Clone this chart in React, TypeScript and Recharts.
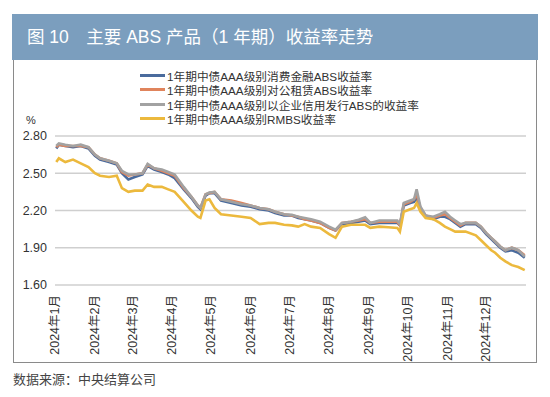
import React from 'react';
import { LineChart, Line, XAxis, YAxis, CartesianGrid } from 'recharts';

// day of year (0 = 1 Jan 2024) for each sample
const days = [
  1, 3, 8, 14, 20, 26, 31, 35, 42, 48, 52, 57, 62, 68, 72, 77, 83, 88, 93, 100,
  106, 111, 113, 117, 120, 124, 129, 137, 145, 152, 159, 166, 171, 178, 184, 189, 194, 199, 206, 213,
  218, 223, 230, 236, 241, 245, 252, 259, 266, 268, 271, 276, 279, 281, 284, 288, 294, 299, 303, 307,
  311, 315, 319, 327, 331, 335, 339, 342, 346, 350, 355, 360, 365,
];

const consumerFinance = [
  2.70, 2.73, 2.72, 2.71, 2.72, 2.70, 2.64, 2.61, 2.59, 2.57, 2.50, 2.45, 2.47, 2.49, 2.56, 2.53, 2.51, 2.49, 2.46, 2.37,
  2.30, 2.23, 2.21, 2.32, 2.34, 2.34, 2.28, 2.26, 2.24, 2.23, 2.21, 2.20, 2.18, 2.16, 2.16, 2.14, 2.13, 2.12, 2.10, 2.06,
  2.04, 2.09, 2.10, 2.11, 2.12, 2.09, 2.10, 2.10, 2.10, 2.08, 2.24, 2.26, 2.27, 2.30, 2.21, 2.15, 2.13, 2.15, 2.15, 2.13,
  2.10, 2.07, 2.09, 2.09, 2.06, 2.01, 1.97, 1.94, 1.90, 1.87, 1.88, 1.86, 1.82,
];

const publicRental = [
  2.71, 2.73, 2.72, 2.72, 2.72, 2.71, 2.65, 2.62, 2.60, 2.58, 2.51, 2.48, 2.49, 2.50, 2.57, 2.54, 2.52, 2.50, 2.48, 2.38,
  2.31, 2.24, 2.22, 2.33, 2.34, 2.35, 2.29, 2.28, 2.26, 2.24, 2.22, 2.21, 2.19, 2.17, 2.16, 2.15, 2.13, 2.12, 2.10, 2.06,
  2.04, 2.10, 2.11, 2.12, 2.13, 2.10, 2.11, 2.11, 2.11, 2.08, 2.25, 2.27, 2.29, 2.33, 2.22, 2.16, 2.14, 2.16, 2.17, 2.14,
  2.11, 2.08, 2.10, 2.10, 2.07, 2.02, 1.98, 1.95, 1.91, 1.88, 1.90, 1.88, 1.84,
];

const enterpriseCredit = [
  2.72, 2.74, 2.73, 2.72, 2.73, 2.71, 2.65, 2.62, 2.60, 2.58, 2.52, 2.49, 2.49, 2.50, 2.575, 2.54, 2.53, 2.51, 2.49, 2.39,
  2.31, 2.24, 2.22, 2.33, 2.345, 2.35, 2.29, 2.27, 2.25, 2.24, 2.22, 2.21, 2.19, 2.17, 2.165, 2.15, 2.14, 2.13, 2.11, 2.07,
  2.045, 2.10, 2.11, 2.125, 2.145, 2.10, 2.12, 2.12, 2.12, 2.09, 2.26, 2.28, 2.29, 2.37, 2.23, 2.16, 2.15, 2.17, 2.19, 2.15,
  2.12, 2.09, 2.10, 2.10, 2.07, 2.02, 1.98, 1.95, 1.91, 1.88, 1.90, 1.88, 1.83,
];

const rmbs = [
  2.59, 2.62, 2.59, 2.61, 2.58, 2.55, 2.50, 2.48, 2.47, 2.48, 2.38, 2.35, 2.36, 2.36, 2.41, 2.39, 2.39, 2.37, 2.35, 2.27,
  2.20, 2.15, 2.14, 2.28, 2.29, 2.22, 2.17, 2.16, 2.15, 2.14, 2.09, 2.10, 2.10, 2.085, 2.08, 2.07, 2.09, 2.07, 2.06, 2.01,
  1.98, 2.07, 2.085, 2.085, 2.085, 2.06, 2.07, 2.065, 2.06, 2.03, 2.19, 2.21, 2.22, 2.26, 2.19, 2.14, 2.13, 2.10, 2.07, 2.05,
  2.03, 2.03, 2.03, 2.00, 1.96, 1.92, 1.88, 1.86, 1.82, 1.79, 1.76, 1.745, 1.72,
];

const monthStarts = [0, 31, 60, 91, 121, 152, 182, 213, 244, 274, 305, 335];
const monthLabels = ['1月', '2月', '3月', '4月', '5月', '6月', '7月', '8月', '9月', '10月', '11月', '12月'];
const yTicks = [1.6, 1.9, 2.2, 2.5, 2.8];

const series = [
  { key: 'consumerFinance', name: '1年期中债AAA级别消费金融ABS收益率', color: '#4a6b9d' },
  { key: 'publicRental', name: '1年期中债AAA级别对公租赁ABS收益率', color: '#e0845c' },
  { key: 'enterpriseCredit', name: '1年期中债AAA级别以企业信用发行ABS的收益率', color: '#a2a2a2' },
  { key: 'rmbs', name: '1年期中债AAA级别RMBS收益率', color: '#ecb93d' },
];

const data = days.map((d, i) => ({
  d,
  consumerFinance: consumerFinance[i],
  publicRental: publicRental[i],
  enterpriseCredit: enterpriseCredit[i],
  rmbs: rmbs[i],
}));

const font = "'Liberation Sans', 'Noto Sans CJK SC', sans-serif";

const MonthTick = (props: any) => {
  const { x, y, payload } = props;
  const idx = monthStarts.indexOf(payload.value);
  return (
    <text
      x={x}
      y={y + 2}
      transform={`rotate(-90 ${x} ${y + 2})`}
      textAnchor="end"
      dy="0.35em"
      fontSize={12.5}
      fill="#333"
      fontFamily={font}
    >
      {`2024年${monthLabels[idx]}`}
    </text>
  );
};

export default function App() {
  return (
    <div style={{ position: 'absolute', left: 0, top: 0, width: 550, height: 397, background: '#fff', fontFamily: font }}>
      <div
        style={{
          position: 'absolute', left: 12, top: 14, width: 526, height: 46, background: '#7b9ebe',
          color: '#fff', fontSize: 17.5, lineHeight: '46px', paddingLeft: 15, boxSizing: 'border-box',
          fontFamily: font, whiteSpace: 'pre',
        }}
      >
        图 10　主要 ABS 产品（1 年期）收益率走势
      </div>
      <div
        style={{
          position: 'absolute', left: 13, top: 60, width: 524, height: 303,
          border: '1px solid #8a8a8a', borderTop: 'none', boxSizing: 'border-box',
        }}
      />
      <div style={{ position: 'absolute', left: 140, top: 68 }}>
        {series.map((s) => (
          <div key={s.key} style={{ display: 'flex', alignItems: 'center', height: 14.5 }}>
            <div style={{ width: 25, height: 3, background: s.color, marginRight: 2 }} />
            <span style={{ fontSize: 11.7, color: '#333', whiteSpace: 'nowrap' }}>{s.name}</span>
          </div>
        ))}
      </div>
      <div style={{ position: 'absolute', left: 26, top: 114, fontSize: 11, color: '#333' }}>%</div>
      <div style={{ position: 'absolute', left: 13, top: 369, fontSize: 13, color: '#444', fontFamily: "'Noto Sans CJK SC', sans-serif" }}>
        数据来源：中央结算公司
      </div>
      <div style={{ position: 'absolute', left: 0, top: 0 }}>
        <LineChart width={550} height={397} data={data} margin={{ top: 136, right: 24, bottom: 32, left: 15 }}>
          <CartesianGrid horizontal vertical={false} stroke="#cfcfcf" strokeWidth={1.6} />
          <XAxis
            dataKey="d"
            type="number"
            domain={[0, 366]}
            ticks={monthStarts}
            interval={0}
            axisLine={false}
            tickLine={false}
            height={80}
            tick={<MonthTick />}
          />
          <YAxis
            type="number"
            domain={[1.6, 2.8]}
            ticks={yTicks}
            width={40}
            axisLine={false}
            tickLine={false}
            tickFormatter={(v: number) => v.toFixed(2)}
            tick={{ fontSize: 12.5, fill: '#333', fontFamily: font }}
          />
          {series.map((s) => (
            <Line
              key={s.key}
              type="linear"
              dataKey={s.key}
              stroke={s.color}
              strokeWidth={2.6}
              dot={false}
              isAnimationActive={false}
            />
          ))}
        </LineChart>
      </div>
    </div>
  );
}
